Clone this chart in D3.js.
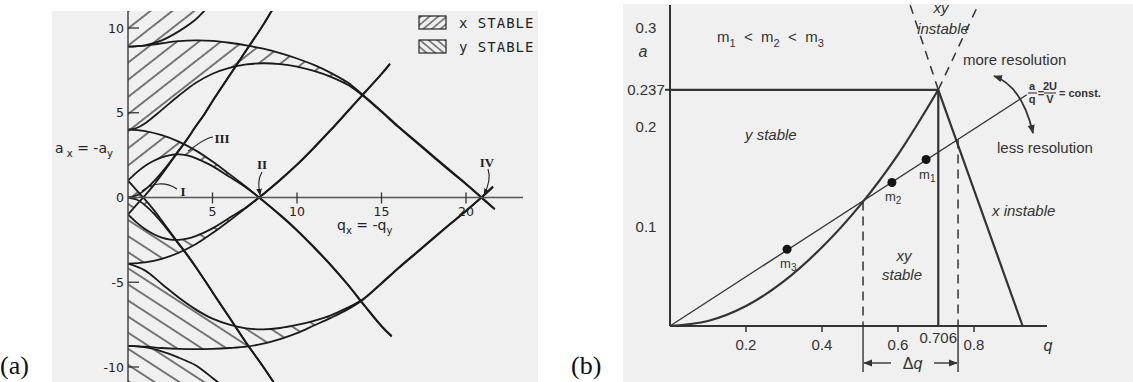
<!DOCTYPE html>
<html><head><meta charset="utf-8">
<script src="https://cdn.jsdelivr.net/npm/d3@7"></script>
<style>
body{margin:0;background:#fff;}
svg{display:block;}
</style></head><body>
<svg id="fig" width="1133" height="382"></svg>
<script>
// ===== Panel (a): stability diagram in the a_x = -a_y / q_x = -q_y plane =====
const aTicksY = [-10, -5, 0, 5, 10];
const aTicksX = [5, 10, 15, 20];

// boundaries of x stability, [q, a]
const curveA0 = [[0,0],[0.5,-0.12],[1,-0.45],[1.5,-0.92],[2,-1.48],[2.5,-2.1],[3,-2.75],[3.5,-3.4],[4,-4.1],[5,-5.6],[6,-7.1],[7,-8.6],[8,-10.0],[8.8,-11.2]];
const curveB1 = [[0,1],[0.5,0.44],[1,-0.11],[1.5,-0.7],[2,-1.36],[2.5,-2.04],[3,-2.71],[3.5,-3.37],[4,-4.07],[5,-5.57],[6,-7.07],[7,-8.57],[8,-9.97],[8.8,-11.17]];
const curveA1 = [[0,1],[0.5,1.47],[1,1.86],[1.5,2.15],[2,2.37],[2.5,2.5],[3,2.55],[3.5,2.48],[4,2.32],[4.5,2.1],[5,1.85],[6,1.22],[7,0.58],[7.76,0],[9,-1.05],[10,-1.95],[11,-2.95],[12,-4.0],[13,-5.15],[14,-6.4],[15,-7.6],[15.6,-8.2]];
const curveB2 = [[0,4],[1,3.92],[2,3.68],[3,3.3],[4,2.78],[5,2.12],[6,1.38],[7,0.62],[7.76,0],[9,-1.02],[10,-1.92],[11,-2.92],[12,-3.97],[13,-5.12],[14,-6.37],[15,-7.57],[15.6,-8.17]];
const curveA2 = [[0,4],[0.5,4.1],[1,4.37],[2,5.17],[3,6.0],[4,6.75],[5,7.3],[6,7.65],[7,7.85],[8,7.92],[9,7.87],[10,7.72],[11,7.47],[12,7.12],[13,6.65],[13.9,6.0],[15,5.05],[16,4.15],[17,3.3],[18,2.45],[19,1.6],[20,0.78],[20.9,0],[21.7,-0.7]];
const curveB3 = [[0,8.9],[1,8.96],[2,9.1],[3,9.22],[4,9.27],[5,9.24],[6,9.13],[7,8.97],[8,8.78],[9,8.52],[10,8.2],[11,7.82],[12,7.35],[13,6.78],[13.9,6.05],[15,5.1],[16,4.2],[17,3.35],[18,2.5],[19,1.65],[20,0.82],[20.9,0.03],[21.7,-0.67]];
const curveA3 = [[0,8.9],[1,8.98],[2,9.27],[3,9.8],[4,10.5],[4.5,11.0],[5,11.5]];

// boundaries of y stability, [q, a]
const curveNA0 = [[0,0],[0.5,0.12],[1,0.45],[1.5,0.92],[2,1.48],[2.5,2.1],[3,2.78],[3.5,3.45],[4,4.2],[4.5,4.9],[5,5.7],[6,7.2],[7,8.7],[8,10.2],[8.6,11.2]];
const curveNB1 = [[0,-1],[0.5,-0.44],[1,0.11],[1.5,0.7],[2,1.36],[2.5,2.05],[3,2.74],[3.5,3.42],[4,4.17],[4.5,4.87],[5,5.67],[6,7.17],[7,8.67],[8,10.17],[8.6,11.17]];
const curveNA1 = [[0,-1],[0.5,-1.47],[1,-1.86],[1.5,-2.15],[2,-2.37],[2.5,-2.48],[3,-2.5],[3.5,-2.43],[4,-2.28],[5,-1.82],[6,-1.2],[7,-0.57],[7.76,0],[9,1.05],[10,1.95],[11,2.95],[12,4.0],[13,5.1],[14,6.2],[15,7.3],[15.5,7.9]];
const curveNB2 = [[0,-3.9],[1,-3.83],[2,-3.62],[3,-3.26],[4,-2.76],[5,-2.1],[6,-1.37],[7,-0.6],[7.76,0],[9,1.02],[10,1.92],[11,2.92],[12,3.97],[13,5.07],[14,6.17],[15,7.27],[15.5,7.87]];
const curveNA2 = [[0,-3.9],[1,-4.3],[2,-5.1],[3,-5.9],[4,-6.6],[5,-7.15],[6,-7.5],[7,-7.72],[8,-7.78],[9,-7.7],[10,-7.52],[11,-7.28],[12,-6.95],[13,-6.5],[13.9,-6.0],[15,-5.05],[16,-4.15],[17,-3.3],[18,-2.45],[19,-1.6],[20,-0.78],[20.9,0],[21.6,0.65]];
const curveNB3 = [[0,-8.75],[1,-8.8],[2,-8.88],[3,-8.93],[4,-8.95],[5,-8.93],[6,-8.88],[7,-8.8],[8,-8.62],[9,-8.35],[10,-8.0],[11,-7.55],[12,-7.1],[13,-6.6],[13.9,-6.03],[15,-5.08],[16,-4.18],[17,-3.33],[18,-2.48],[19,-1.63],[20,-0.8],[20.9,-0.02],[21.6,0.62]];
const curveNA3 = [[0,-8.75],[1,-8.83],[2,-9.08],[3,-9.45],[4,-9.9],[4.5,-10.25],[5,-10.65],[5.6,-11.1]];

// ===== Panel (b): first stability region in the a / q plane =====
const bTicksX = [0.2, 0.4, 0.6, 0.8];
const bApexQ = 0.706;
const bTicksY = [0.1, 0.2, 0.237, 0.3];
const apex = [0.706, 0.237];
const leftEdge = [[0,0],[0.1,0.005],[0.2,0.02],[0.3,0.045],[0.4,0.079],[0.5,0.121],[0.6,0.172],[0.706,0.237]];
const rightEdge = [[0.706,0.237],[0.928,0]];
const apexDashLeft = [[0.706,0.237],[0.632,0.322]];
const apexDashRight = [[0.706,0.237],[0.811,0.322]];
const scanLine = [[0,0],[0.939,0.232]];
const masses = [["1",0.674,0.167],["2",0.584,0.144],["3",0.308,0.077]];
const deltaQ = [[0.508,0.125],[0.758,0.187]];

const svg = d3.select("#fig");
const defs = svg.append("defs");

function hatch(id, angle, step, width) {
  const p = defs.append("pattern").attr("id", id)
    .attr("patternUnits", "userSpaceOnUse")
    .attr("width", step).attr("height", step)
    .attr("patternTransform", `rotate(${angle})`);
  p.append("line").attr("x1", step/2).attr("y1", -1).attr("x2", step/2).attr("y2", step + 1)
    .attr("stroke", "#1e1e1e").attr("stroke-width", width);
}
hatch("hx", 52, 13.5, 1.15);
hatch("hy", -57, 13.5, 1.15);
hatch("lx", 50, 5.5, 1.0);
hatch("ly", -50, 5.5, 1.0);

defs.append("clipPath").attr("id", "clipA").append("rect")
  .attr("x", 128).attr("y", 11).attr("width", 412).attr("height", 371);

function marker(id, size, color) {
  defs.append("marker").attr("id", id).attr("viewBox", "0 0 10 10")
    .attr("refX", 9).attr("refY", 5).attr("markerWidth", size).attr("markerHeight", size)
    .attr("orient", "auto-start-reverse").attr("markerUnits", "userSpaceOnUse")
    .append("path").attr("d", "M0,1 L10,5 L0,9 Z").attr("fill", color);
}
marker("arrA", 7, "#222");
marker("arrB", 9, "#333");

// ---------- panel (a) ----------
const xA = d3.scaleLinear().domain([0, 20]).range([128, 466]);
const yA = d3.scaleLinear().domain([-10, 10]).range([367, 28]);
const lineA = d3.line().x(d => xA(d[0])).y(d => yA(d[1])).curve(d3.curveCatmullRom.alpha(0.5));

function band(upper, lower) {
  return lineA(upper) + "L" + lineA(lower.slice().reverse()).slice(1) + "Z";
}

const gA = svg.append("g");
gA.append("rect").attr("x", 52).attr("y", 11).attr("width", 486).attr("height", 371).attr("fill", "#f0f0f0");

const plotA = gA.append("g").attr("clip-path", "url(#clipA)");
// x stable regions
[[curveB1, curveA0], [curveB2, curveA1], [curveB3, curveA2]].forEach(([u, l]) => {
  plotA.append("path").attr("d", band(u, l)).attr("fill", "url(#hx)");
});
plotA.append("path").attr("d", lineA(curveA3) + `L${xA(curveA3[curveA3.length-1][0])},0L${xA(0)},0Z`).attr("fill", "url(#hx)");
// y stable regions
[[curveNA0, curveNB1], [curveNA1, curveNB2], [curveNB3, curveNA2]].forEach(([u, l]) => {
  plotA.append("path").attr("d", band(u, l)).attr("fill", "url(#hy)");
});
plotA.append("path").attr("d", lineA(curveNA3) + `L${xA(curveNA3[curveNA3.length-1][0])},382L${xA(0)},382Z`).attr("fill", "url(#hy)");

// axes
gA.append("line").attr("x1", 128).attr("x2", 523).attr("y1", yA(0)).attr("y2", yA(0)).attr("stroke", "#555").attr("stroke-width", 1.5);
gA.append("line").attr("x1", 128).attr("x2", 128).attr("y1", 11).attr("y2", 382).attr("stroke", "#444").attr("stroke-width", 1.5);

// boundary curves
[curveA0, curveB1, curveA1, curveB2, curveA2, curveB3, curveA3,
 curveNA0, curveNB1, curveNA1, curveNB2, curveNA2, curveNB3, curveNA3].forEach(c => {
  plotA.append("path").attr("d", lineA(c)).attr("fill", "none")
    .attr("stroke", "#1a1a1a").attr("stroke-width", 1.8);
});

// ticks and labels
const tickFont = "'DejaVu Sans', sans-serif";
aTicksY.forEach(v => {
  if (v !== 0) gA.append("line").attr("x1", 128).attr("x2", 139).attr("y1", yA(v)).attr("y2", yA(v)).attr("stroke", "#333").attr("stroke-width", 1.3);
  gA.append("text").attr("x", 124).attr("y", yA(v) + 4.5).attr("text-anchor", "end")
    .attr("font-family", tickFont).attr("font-size", 12.5).attr("fill", "#222").text(v);
});
aTicksX.forEach(v => {
  gA.append("line").attr("x1", xA(v)).attr("x2", xA(v)).attr("y1", yA(0) - 5).attr("y2", yA(0) + 6).attr("stroke", "#333").attr("stroke-width", 1.3);
  gA.append("text").attr("x", xA(v)).attr("y", 216).attr("text-anchor", "middle")
    .attr("font-family", tickFont).attr("font-size", 12.5).attr("fill", "#222").text(v);
});

// axis titles
const ay = gA.append("text").attr("x", 55).attr("y", 153).attr("font-family", tickFont).attr("font-size", 14).attr("fill", "#222");
ay.append("tspan").text("a");
ay.append("tspan").attr("font-size", 10).attr("dy", 4).text(" x");
ay.append("tspan").attr("dy", -4).text(" = -");
ay.append("tspan").text("a");
ay.append("tspan").attr("font-size", 10).attr("dy", 4).text("y");

const qx = gA.append("text").attr("x", 337).attr("y", 230).attr("font-family", tickFont).attr("font-size", 14).attr("fill", "#222");
qx.append("tspan").text("q");
qx.append("tspan").attr("font-size", 10).attr("dy", 4).text("x");
qx.append("tspan").attr("dy", -4).text(" = -");
qx.append("tspan").text("q");
qx.append("tspan").attr("font-size", 10).attr("dy", 4).text("y");

// roman numeral annotations
const romanFont = "'Liberation Serif', 'DejaVu Serif', serif";
[["I", 183, 196], ["II", 262, 169], ["III", 222, 143], ["IV", 487, 167]].forEach(([s, x, y]) => {
  gA.append("text").attr("x", x).attr("y", y).attr("text-anchor", "middle")
    .attr("font-family", romanFont).attr("font-size", 13).attr("font-weight", "bold").attr("fill", "#222").text(s);
});
const ptr = gA.append("g").attr("fill", "none").attr("stroke", "#222").attr("stroke-width", 1.1);
ptr.append("path").attr("d", "M177,189 C165,181 152,183 142,191");
ptr.append("path").attr("d", "M262,172 C257,180 259,188 260,195").attr("marker-end", "url(#arrA)");
ptr.append("path").attr("d", "M213,137 C204,138 196,146 188,151");
ptr.append("path").attr("d", "M488,169 C491,178 488,187 484,195").attr("marker-end", "url(#arrA)");

// legend
[["lx", "x STABLE", 16], ["ly", "y STABLE", 40]].forEach(([pat, label, y]) => {
  gA.append("rect").attr("x", 419).attr("y", y).attr("width", 27).attr("height", 13)
    .attr("fill", `url(#${pat})`).attr("stroke", "#222").attr("stroke-width", 1.2);
  gA.append("text").attr("x", 459).attr("y", y + 12).attr("font-family", "'DejaVu Sans Mono', monospace")
    .attr("font-size", 14).attr("letter-spacing", 1).attr("fill", "#222").text(label);
});

// panel tags
svg.append("text").attr("x", 0).attr("y", 374).attr("font-family", romanFont).attr("font-size", 26).attr("fill", "#111").text("(a)");

// ---------- panel (b) ----------
const xB = d3.scaleLinear().domain([0, 0.8]).range([670, 974]);
const yB = d3.scaleLinear().domain([0, 0.3]).range([326, 27]);
const lineB = d3.line().x(d => xB(d[0])).y(d => yB(d[1]));
const sans = "'Liberation Sans', Arial, sans-serif";
const ink = "#333";

const gB = svg.append("g");
gB.append("rect").attr("x", 623).attr("y", 4).attr("width", 510).attr("height", 378).attr("fill", "#f0f0f0");
svg.append("text").attr("x", 571).attr("y", 374).attr("font-family", romanFont).attr("font-size", 26).attr("fill", "#111").text("(b)");

// axes
gB.append("line").attr("x1", xB(0)).attr("x2", xB(0)).attr("y1", 5).attr("y2", yB(0)).attr("stroke", ink).attr("stroke-width", 2);
gB.append("line").attr("x1", xB(0)).attr("x2", 1047).attr("y1", yB(0)).attr("y2", yB(0)).attr("stroke", ink).attr("stroke-width", 2.2);
bTicksX.forEach(v => {
  gB.append("line").attr("x1", xB(v)).attr("x2", xB(v)).attr("y1", yB(0)).attr("y2", yB(0) + 6).attr("stroke", ink).attr("stroke-width", 1.5);
  gB.append("text").attr("x", xB(v)).attr("y", 350).attr("text-anchor", "middle")
    .attr("font-family", sans).attr("font-size", 15).attr("fill", ink).text(v);
});
gB.append("text").attr("x", xB(bApexQ)).attr("y", 343).attr("text-anchor", "middle")
  .attr("font-family", sans).attr("font-size", 15).attr("fill", ink).text(bApexQ);
gB.append("text").attr("x", 1048).attr("y", 351).attr("text-anchor", "middle")
  .attr("font-family", sans).attr("font-style", "italic").attr("font-size", 16).attr("fill", ink).text("q");

bTicksY.forEach(v => {
  gB.append("text").attr("x", 646).attr("y", yB(v) + 5.5).attr("text-anchor", "middle")
    .attr("font-family", sans).attr("font-size", 15).attr("fill", ink).text(v);
});
gB.append("line").attr("x1", 665).attr("x2", xB(0)).attr("y1", yB(apex[1])).attr("y2", yB(apex[1])).attr("stroke", ink).attr("stroke-width", 2);
gB.append("text").attr("x", 643).attr("y", 57).attr("text-anchor", "middle")
  .attr("font-family", sans).attr("font-style", "italic").attr("font-size", 16).attr("fill", ink).text("a");

// stability triangle
function heavy(sel) { return sel.attr("stroke", ink).attr("stroke-width", 2.2).attr("fill", "none"); }
heavy(gB.append("path").attr("d", lineB.curve(d3.curveCatmullRom.alpha(0.5))(leftEdge)));
lineB.curve(d3.curveLinear);
heavy(gB.append("path").attr("d", lineB(rightEdge)));
heavy(gB.append("path").attr("d", lineB([[0, apex[1]], apex])));
heavy(gB.append("path").attr("d", lineB([apex, [apex[0], 0]])));
[apexDashLeft, apexDashRight].forEach(d => {
  gB.append("path").attr("d", lineB(d)).attr("fill", "none").attr("stroke", ink)
    .attr("stroke-width", 1.5).attr("stroke-dasharray", "9,7");
});

// operating line a/q = const and the masses on it
gB.append("path").attr("d", lineB(scanLine)).attr("fill", "none").attr("stroke", ink).attr("stroke-width", 1.3);
masses.forEach(([n, q, a]) => {
  gB.append("circle").attr("cx", xB(q)).attr("cy", yB(a)).attr("r", 4.5).attr("fill", "#151515");
  const t = gB.append("text").attr("x", xB(q) - 7).attr("y", yB(a) + 19)
    .attr("font-family", sans).attr("font-size", 13).attr("fill", ink);
  t.append("tspan").text("m");
  t.append("tspan").attr("font-size", 10).attr("dy", 3).text(n);
});

// resolution window Δq
deltaQ.forEach(([q, a]) => {
  gB.append("line").attr("x1", xB(q)).attr("x2", xB(q)).attr("y1", yB(a)).attr("y2", yB(0))
    .attr("stroke", ink).attr("stroke-width", 1.5).attr("stroke-dasharray", "9,6");
  gB.append("line").attr("x1", xB(q)).attr("x2", xB(q)).attr("y1", yB(0)).attr("y2", 372)
    .attr("stroke", ink).attr("stroke-width", 1.4);
});
const dqY = 363;
gB.append("line").attr("x1", xB(deltaQ[0][0]) + 28).attr("x2", xB(deltaQ[0][0]) + 1).attr("y1", dqY).attr("y2", dqY)
  .attr("stroke", ink).attr("stroke-width", 1.4).attr("marker-end", "url(#arrB)");
gB.append("line").attr("x1", xB(deltaQ[1][0]) - 24).attr("x2", xB(deltaQ[1][0]) - 1).attr("y1", dqY).attr("y2", dqY)
  .attr("stroke", ink).attr("stroke-width", 1.4).attr("marker-end", "url(#arrB)");
const dq = gB.append("text").attr("x", (xB(deltaQ[0][0]) + xB(deltaQ[1][0])) / 2 + 2).attr("y", 369).attr("text-anchor", "middle")
  .attr("font-family", sans).attr("font-size", 16).attr("fill", ink);
dq.append("tspan").text("Δ");
dq.append("tspan").attr("font-style", "italic").text("q");

// region labels
function label(x, y, s, opts = {}) {
  return gB.append("text").attr("x", x).attr("y", y).attr("text-anchor", opts.anchor || "start")
    .attr("font-family", sans).attr("font-size", opts.size || 15)
    .attr("font-style", opts.italic ? "italic" : "normal").attr("fill", ink).text(s);
}
label(745, 140, "y stable", { italic: true });
label(992, 216, "x  instable", { italic: true });
label(904, 261, "xy", { italic: true, anchor: "middle" });
label(902, 280, "stable", { italic: true, anchor: "middle" });
label(941, 13, "xy", { italic: true, anchor: "middle" });
label(943, 34, "instable", { italic: true, anchor: "middle" });
label(963, 65, "more resolution");
label(997, 153, "less resolution");

const mm = gB.append("text").attr("x", 717).attr("y", 42).attr("font-family", sans).attr("font-size", 15).attr("fill", ink);
[["1", "  <  "], ["2", "  <  "], ["3", ""]].forEach(([n, rest]) => {
  mm.append("tspan").text("m");
  mm.append("tspan").attr("font-size", 11).attr("dy", 5).text(n);
  if (rest) mm.append("tspan").attr("dy", -5).attr("xml:space", "preserve").text(rest);
});

// curved double arrow between the two resolution labels
gB.append("path").attr("d", "M994,76 Q1022,86 1033,133").attr("fill", "none")
  .attr("stroke", ink).attr("stroke-width", 1.8)
  .attr("marker-start", "url(#arrB)").attr("marker-end", "url(#arrB)");

// a/q = 2U/V = const.
const fr = gB.append("g").attr("font-family", sans).attr("font-size", 11).attr("font-weight", "bold").attr("fill", ink);
fr.append("text").attr("x", 1032).attr("y", 90).attr("text-anchor", "middle").text("a");
fr.append("line").attr("x1", 1028).attr("x2", 1037).attr("y1", 93).attr("y2", 93).attr("stroke", ink).attr("stroke-width", 1.1);
fr.append("text").attr("x", 1032).attr("y", 103).attr("text-anchor", "middle").text("q");
fr.append("text").attr("x", 1041).attr("y", 97).attr("text-anchor", "middle").text("=");
fr.append("text").attr("x", 1050).attr("y", 90).attr("text-anchor", "middle").text("2U");
fr.append("line").attr("x1", 1044).attr("x2", 1056).attr("y1", 93).attr("y2", 93).attr("stroke", ink).attr("stroke-width", 1.1);
fr.append("text").attr("x", 1050).attr("y", 103).attr("text-anchor", "middle").text("V");
fr.append("text").attr("x", 1059).attr("y", 97).text("= const.");
</script>
</body></html>
